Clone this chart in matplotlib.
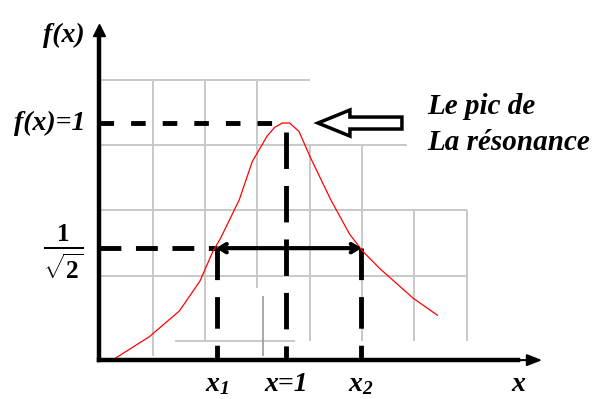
import matplotlib
matplotlib.use("Agg")
import matplotlib.pyplot as plt
from matplotlib.patches import FancyArrow
import numpy as np

plt.rcParams["mathtext.fontset"] = "custom"
plt.rcParams["mathtext.it"] = "Liberation Serif:bold:italic"
plt.rcParams["mathtext.rm"] = "Liberation Serif:bold:italic"
plt.rcParams["mathtext.bf"] = "Liberation Serif:bold"

# resonance curve f(x), peak normalised to 1 at x = 1
x_curve = [0.09, 0.27, 0.43, 0.54, 0.61, 0.65, 0.75, 0.82, 0.90, 0.94, 0.98,
           1.02, 1.07, 1.13, 1.24, 1.34, 1.41, 1.50, 1.68, 1.81]
f_curve = [0.45, 0.50, 0.56, 0.63, 0.70, 0.73, 0.82, 0.91, 0.97, 0.99, 1.00,
           1.00, 0.98, 0.92, 0.82, 0.74, 0.70, 0.66, 0.59, 0.55]

x_peak = 1.0
f_peak = 1.0
f_half = 1 / np.sqrt(2)
x1 = 0.63
x2 = 1.40

x_labels = ["$x_1$", "x=1", "$x_2$"]
peak_text = "Le pic de\nLa résonance"

y_base = 0.445   # where the x axis sits
x_end = 2.385    # tip of the x axis arrow
y_end = 1.23     # tip of the f(x) axis arrow

fig = plt.figure(figsize=(5.94, 3.99), dpi=100)
ax = fig.add_axes([0, 0, 1, 1])
ax.set_xlim(-0.529, 2.647)
ax.set_ylim(0.354, 1.288)
ax.axis("off")

font = dict(family="Liberation Serif", weight="bold", style="italic")

# background grid pieces
gx = [0.289, 0.567, 0.845, 1.128, 1.406, 1.684, 1.968]
gy = [1.101, 0.948, 0.796, 0.642, 0.489]
grid_c = "#c8c8c8"
ax.hlines(gy[0], 0, gx[3], color=grid_c, lw=1.4, zorder=1)
ax.hlines(gy[1], 0, 1.647, color=grid_c, lw=1.4, zorder=1)
ax.hlines(gy[2], 0, gx[6], color=grid_c, lw=1.4, zorder=1)
ax.hlines(gy[3], 0, gx[6], color=grid_c, lw=1.4, zorder=1)
ax.hlines(gy[4], 0.406, 1.05, color=grid_c, lw=1.4, zorder=1)
ax.vlines(gx[0], 0.455, gy[0], color=grid_c, lw=1.4, zorder=1)
ax.vlines(gx[1], 0.49, gy[0], color=grid_c, lw=1.4, zorder=1)
ax.vlines(gx[2], 0.615, gy[0], color=grid_c, lw=1.4, zorder=1)
ax.vlines(0.875, 0.455, 0.595, color="#999999", lw=1.2, zorder=1)
ax.vlines(gx[3], 0.49, gy[1], color=grid_c, lw=1.4, zorder=1)
ax.vlines(gx[4], 0.49, gy[1], color=grid_c, lw=1.4, zorder=1)
ax.vlines(gx[5], 0.49, gy[2], color=grid_c, lw=1.4, zorder=1)
ax.vlines(gx[6], 0.49, gy[2], color=grid_c, lw=1.4, zorder=1)

# axes with arrows
ax.plot([0, 0], [y_base, y_end - 0.02], color="black", lw=3.2, zorder=4)
ax.plot([0], [y_end - 0.012], marker="^", ms=9, color="black", zorder=4)
ax.plot([0, 2.24], [y_base, y_base], color="black", lw=3.2, zorder=4)
ax.annotate("", xy=(x_end, y_base), xytext=(2.22, y_base),
            arrowprops=dict(arrowstyle="-|>,head_length=0.9,head_width=0.35",
                            color="black", lw=1.5), zorder=4)

# the curve
ax.plot(x_curve, f_curve, color="red", lw=0.9, zorder=3)

# dashed guides
ax.plot([0, x_peak], [f_peak, f_peak], color="black", lw=3.5,
        dashes=(3.0, 3.5), zorder=2)
ax.plot([x_peak, x_peak], [f_peak - 0.02, y_base], color="black", lw=3.5,
        dashes=(7.5, 3.5), zorder=2)
ax.plot([0, x1], [f_half, f_half], color="black", lw=3.5,
        dashes=(4.5, 3.0), zorder=2)
ax.plot([x1, x1], [f_half, y_base], color="black", lw=3.5,
        dashes=(6.5, 3.5), zorder=2)
ax.plot([x2, x2], [f_half, y_base], color="black", lw=3.5,
        dashes=(6.5, 3.5), zorder=2)

# bandwidth arrow between x1 and x2
ax.annotate("", xy=(x1 - 0.02, f_half), xytext=(x2 + 0.02, f_half),
            arrowprops=dict(arrowstyle="<->,head_length=0.5,head_width=0.3",
                            color="black", lw=3), zorder=4)

# hollow arrow pointing at the peak
ax.add_patch(FancyArrow(1.62, f_peak, -0.449, 0, width=0.028,
                        head_width=0.061, head_length=0.171,
                        length_includes_head=True, facecolor="white",
                        edgecolor="black", lw=2.5, zorder=4))
ax.text(1.755, 0.997, peak_text, fontsize=21, ha="left", va="center",
        linespacing=1.4, **font)

# axis labels
ax.text(-0.19, 1.205, "f(x)", fontsize=20, ha="center", va="center", **font)
ax.text(-0.07, f_peak, "f(x)=1", fontsize=20, ha="right", va="center", **font)
ax.text(2.24, 0.387, "x", fontsize=20, ha="center", va="center", **font)
ax.text(-0.19, 0.70, r"$\mathbf{\frac{1}{\sqrt{2}}}$", fontsize=26,
        ha="center", va="center")

for xv, lab in zip([x1, x_peak, x2], x_labels):
    ax.text(xv, 0.387, lab, fontsize=20, ha="center", va="center", **font)

fig.savefig("out.png", dpi=100)
